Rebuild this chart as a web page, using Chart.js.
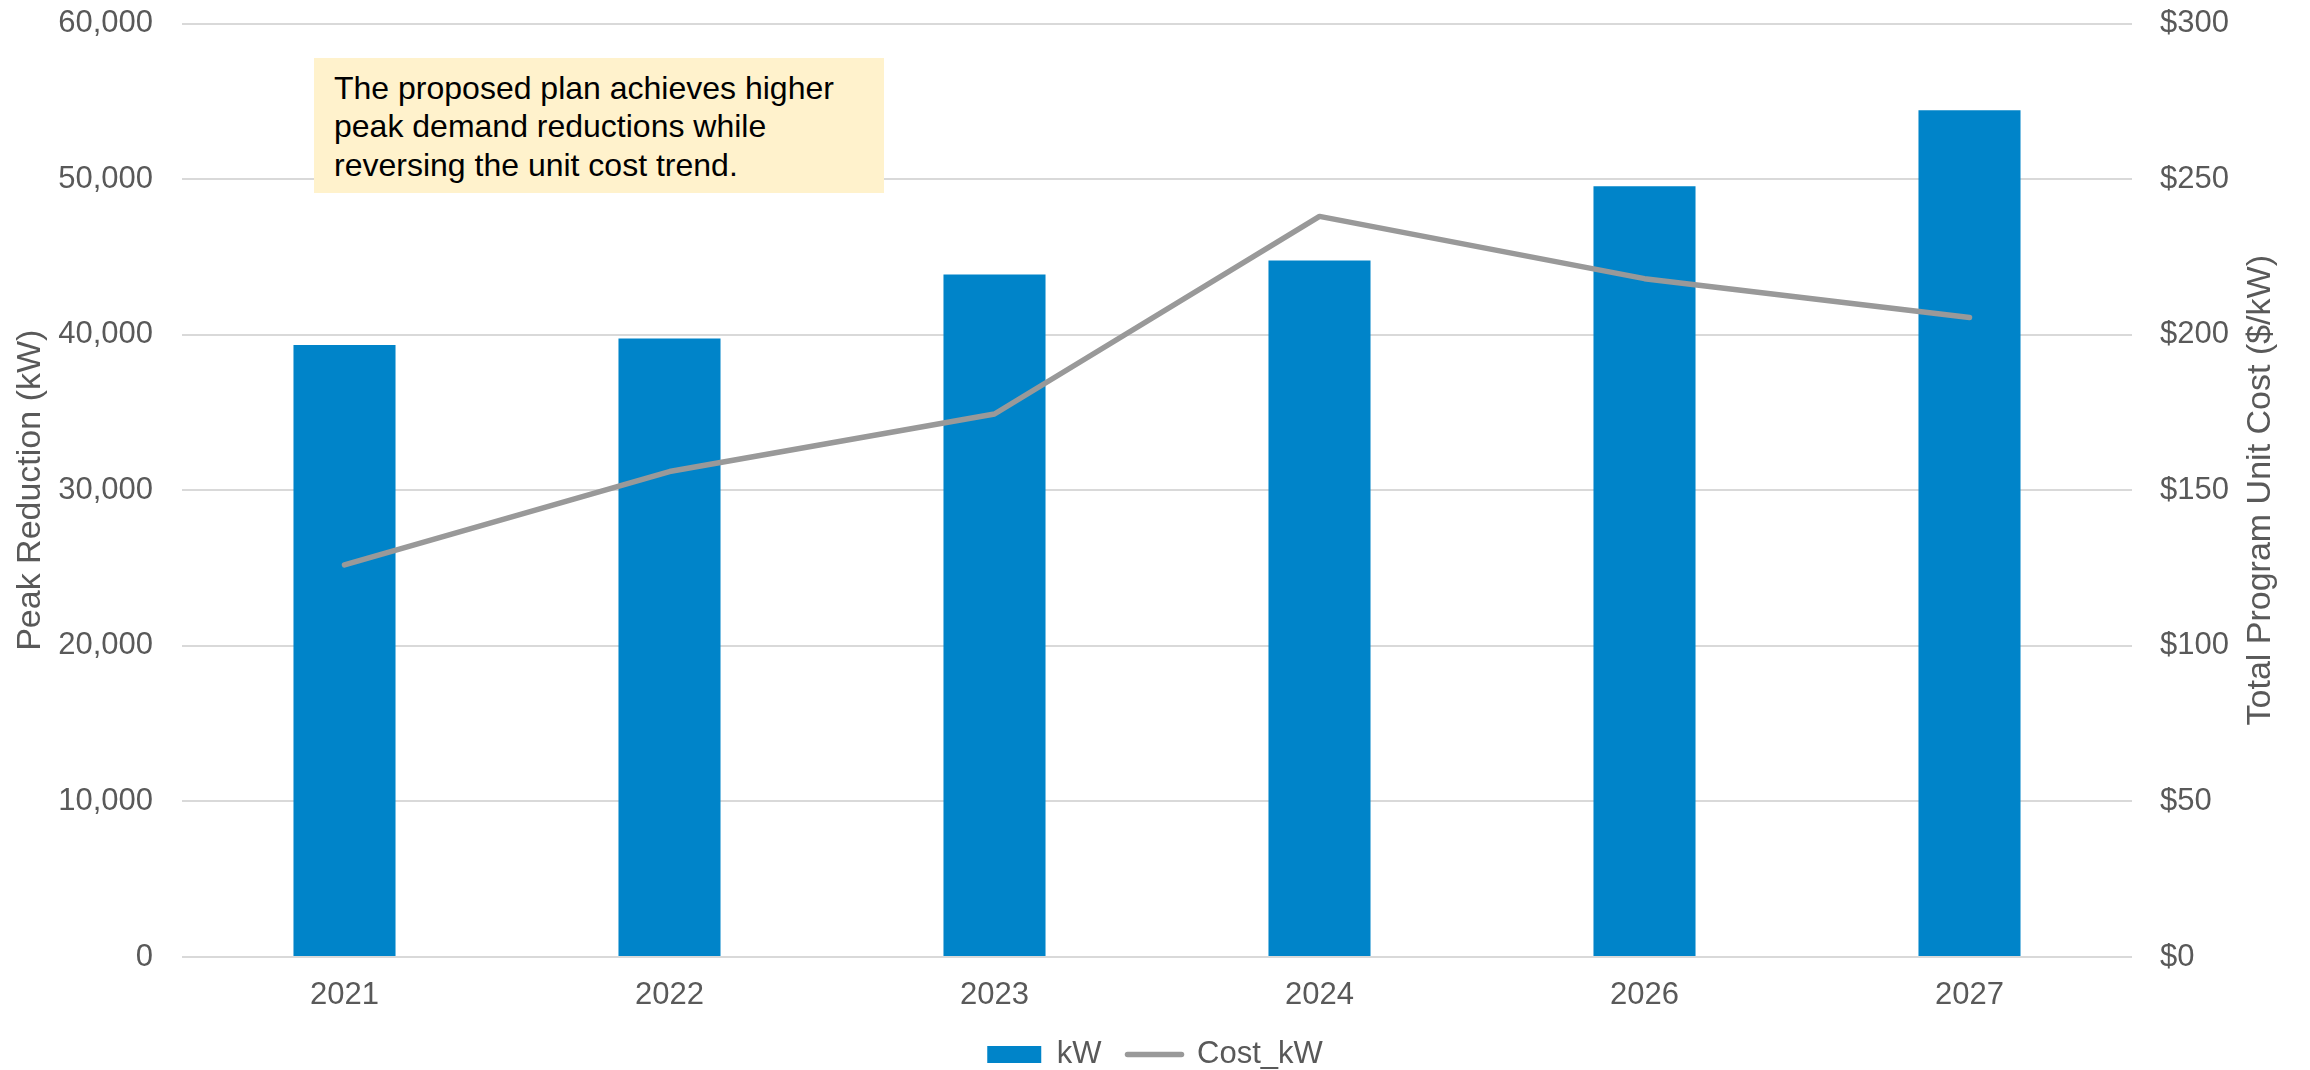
<!DOCTYPE html>
<html>
<head>
<meta charset="utf-8">
<script src="https://cdn.jsdelivr.net/npm/chart.js@4/dist/chart.umd.min.js"></script>
<style>
  html, body { margin: 0; padding: 0; background: #fff; }
  #wrap { position: relative; width: 2310px; height: 1070px; }
  #note {
    position: absolute; left: 314px; top: 58px; width: 550px; height: 124px;
    padding: 11px 0 0 20px; background: #fff2cc; color: #000;
    font: 32px/38.4px "Liberation Sans", Arial, sans-serif;
  }
</style>
</head>
<body>
<div id="wrap">
  <canvas id="chart" width="2310" height="1070"></canvas>
  <div id="note">The proposed plan achieves higher<br>peak demand reductions while<br>reversing the unit cost trend.</div>
</div>
<script>
const years = ["2021", "2022", "2023", "2024", "2026", "2027"];
const peakReductionKW = [39340, 39750, 43870, 44770, 49540, 54430];
const unitCostPerKW = [126, 156, 174.5, 238, 218, 205.5];

const FONT = '"Liberation Sans", Arial, sans-serif';
const TEXT = "#595959";
const BLUE = "#0084c9";
const GREY = "#999999";

// Excel reads the right title bottom-to-top, Chart.js rotates it the other way
const rightTitle = {
  id: "rightTitle",
  afterDraw(chart) {
    const { ctx, chartArea } = chart;
    ctx.save();
    ctx.translate(chart.width - 49, (chartArea.top + chartArea.bottom) / 2);
    ctx.rotate(-Math.PI / 2);
    ctx.font = `34px ${FONT}`;
    ctx.fillStyle = TEXT;
    ctx.textAlign = "center";
    ctx.textBaseline = "middle";
    ctx.fillText("Total Program Unit Cost ($/kW)", 0, 0);
    ctx.restore();
  },
};

new Chart(document.getElementById("chart").getContext("2d"), {
  data: {
    labels: years,
    datasets: [
      {
        type: "bar",
        label: "kW",
        data: peakReductionKW,
        backgroundColor: BLUE,
        yAxisID: "y",
        categoryPercentage: 1,
        barPercentage: 0.314,
        order: 1,
      },
      {
        type: "line",
        label: "Cost_kW",
        data: unitCostPerKW,
        borderColor: GREY,
        borderWidth: 5.5,
        borderCapStyle: "round",
        borderJoinStyle: "round",
        pointRadius: 0,
        tension: 0,
        yAxisID: "y1",
        order: 0,
      },
    ],
  },
  options: {
    responsive: false,
    animation: false,
    devicePixelRatio: 1,
    layout: { padding: { top: 23.5, left: 0, right: 0, bottom: -10 } },
    plugins: {
      tooltip: { enabled: false },
      legend: {
        position: "bottom",
        labels: {
          color: TEXT,
          font: { family: FONT, size: 31 },
          usePointStyle: true,
          pointStyleWidth: 54,
          boxHeight: 17,
          padding: 26,
          generateLabels: (chart) =>
            chart.data.datasets.map((ds, i) => ({
              text: ds.label,
              datasetIndex: i,
              fontColor: TEXT,
              pointStyle: ds.type === "bar" ? "rect" : "line",
              fillStyle: ds.type === "bar" ? BLUE : GREY,
              strokeStyle: ds.type === "bar" ? BLUE : GREY,
              lineWidth: ds.type === "bar" ? 0 : 5.5,
              lineCap: "round",
            })),
        },
      },
    },
    scales: {
      x: {
        grid: { display: false },
        border: { display: false },
        ticks: { color: TEXT, font: { family: FONT, size: 31 }, padding: 12 },
        afterFit: (axis) => { axis.height = 56; },
      },
      y: {
        position: "left",
        min: 0,
        max: 60000,
        // invisible tick marks keep the label gap without padding the top of the plot
        grid: { color: "#d9d9d9", lineWidth: 2, drawTicks: true, tickLength: 29, tickColor: "rgba(0,0,0,0)" },
        border: { display: false },
        ticks: {
          stepSize: 10000,
          padding: 0,
          color: TEXT,
          font: { family: FONT, size: 31 },
          callback: (v) => v.toLocaleString("en-US"),
        },
        title: {
          display: true,
          text: "Peak Reduction (kW)",
          color: TEXT,
          font: { family: FONT, size: 34 },
          padding: { top: 10, bottom: 0 },
        },
        afterFit: (axis) => { axis.width = 182; },
      },
      y1: {
        position: "right",
        min: 0,
        max: 300,
        grid: { display: false, drawTicks: true, tickLength: 28 },
        border: { display: false },
        ticks: {
          stepSize: 50,
          padding: 0,
          color: TEXT,
          font: { family: FONT, size: 31 },
          callback: (v) => "$" + v,
        },
        afterFit: (axis) => { axis.width = 178; },
      },
    },
  },
  plugins: [rightTitle],
});
</script>
</body>
</html>
